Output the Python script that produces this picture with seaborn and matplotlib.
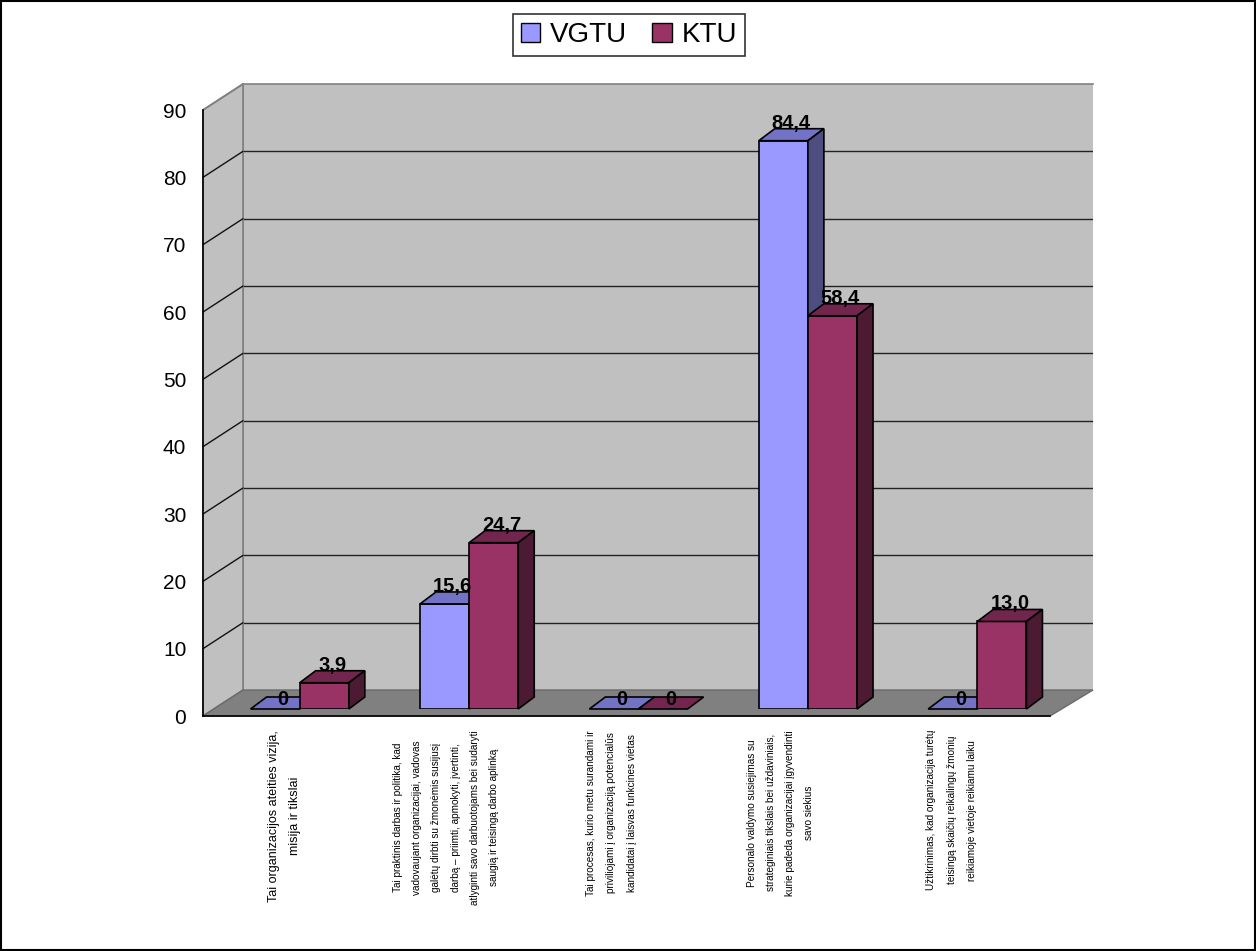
import numpy as np
import pandas as pd
import matplotlib
matplotlib.use("Agg")
import matplotlib.pyplot as plt
from matplotlib.patches import Polygon, Patch, Rectangle
from matplotlib.lines import Line2D
from matplotlib.transforms import IdentityTransform
import seaborn as sns

# ---------------- data ----------------
categories = [
    "Tai organizacijos ateities vizija,\nmisija ir tikslai",
    "Tai praktinis darbas ir politika, kad\nvadovaujant organizacijai, vadovas\ngalėtų dirbti su žmonėmis susijusį\ndarbą – priimti, apmokyti, įvertinti,\natlyginti savo darbuotojams bei sudaryti\nsaugią ir teisingą darbo aplinką",
    "Tai procesas, kurio metu surandami ir\npriviliojami į organizaciją potencialūs\nkandidatai į laisvas funkcines vietas",
    "Personalo valdymo susiejimas su\nstrateginiais tikslais bei uždaviniais,\nkurie padeda organizacijai įgyvendinti\nsavo siekius",
    "Užtikrinimas, kad organizacija turėtų\nteisingą skaičių reikalingų žmonių\nreikiamoje vietoje reikiamu laiku",
]
series_names = ["VGTU", "KTU"]
vgtu = [0, 15.6, 0, 84.4, 0]
ktu = [3.9, 24.7, 0, 58.4, 13.0]
y_ticks = [0, 10, 20, 30, 40, 50, 60, 70, 80, 90]

df = pd.DataFrame({
    "cat": categories * 2,
    "school": [series_names[0]] * 5 + [series_names[1]] * 5,
    "value": vgtu + ktu,
})

front_cols = ["#9999FF", "#993366"]
top_cols = ["#7373C6", "#73264D"]
side_cols = ["#4D4D80", "#4D1A33"]

# ---------------- figure ----------------
sns.set_style("white")
plt.rcParams["font.family"] = ["Liberation Sans", "DejaVu Sans"]
plt.rcParams["text.color"] = "black"
plt.rcParams["xtick.color"] = "black"
plt.rcParams["ytick.color"] = "black"
plt.rcParams["axes.labelcolor"] = "black"

W, H = 1256, 951
fig = plt.figure(figsize=(W / 100, H / 100), dpi=100)
fig.patch.set_facecolor("white")

def fx(x):
    return x / W

def fy(y):
    return 1 - y / H

YMAX = 90
# front plane
FX0, FX1, FY0, FY1 = 203, 1050, 716, 110
# back plane
BX0, BX1, BY0, BY1 = 243, 1093, 690, 84
# bar plane
PX0, PX1, PY0, PY1 = 215, 1062, 709, 103

# back wall
ax_back = fig.add_axes([fx(BX0), fy(BY0), (BX1 - BX0) / W, (BY0 - BY1) / H], zorder=0)
ax_back.set_facecolor("#C0C0C0")
ax_back.set_ylim(0, YMAX)
ax_back.set_xlim(0, 1)
ax_back.set_xticks([])
ax_back.set_yticks([])
for v in y_ticks[1:-1]:
    ax_back.axhline(v, color="#222222", lw=1.0)
for s in ax_back.spines.values():
    s.set_color("#808080")
    s.set_linewidth(1.2)
ax_back.spines["right"].set_visible(False)
ax_back.spines["bottom"].set_visible(False)

# left wall
def yf(v):
    return FY0 - v * (FY0 - FY1) / YMAX

def yb(v):
    return BY0 - v * (BY0 - BY1) / YMAX

wall = Polygon([(fx(FX0), fy(FY0)), (fx(FX0), fy(FY1)), (fx(BX0), fy(BY1)), (fx(BX0), fy(BY0))],
               closed=True, transform=fig.transFigure, facecolor="#C0C0C0",
               edgecolor="#808080", lw=1.2, zorder=0.5)
fig.patches.append(wall)
for v in y_ticks[1:-1]:
    fig.lines.append(Line2D([fx(FX0), fx(BX0)], [fy(yf(v)), fy(yb(v))],
                            transform=fig.transFigure, color="#111111", lw=1.0, zorder=0.6))
fig.lines.append(Line2D([fx(FX0), fx(BX0)], [fy(yf(YMAX)), fy(yb(YMAX))],
                        transform=fig.transFigure, color="#808080", lw=1.2, zorder=0.6))

# floor
floor = Polygon([(fx(FX0), fy(FY0)), (fx(FX1), fy(FY0)), (fx(BX1), fy(BY0)), (fx(BX0), fy(BY0))],
                closed=True, transform=fig.transFigure, facecolor="#808080",
                edgecolor="#6a6a6a", lw=1.0, zorder=0.7)
fig.patches.append(floor)

# bars
ax = fig.add_axes([fx(PX0), fy(PY0), (PX1 - PX0) / W, (PY0 - PY1) / H], zorder=2)
sns.barplot(data=df, x="cat", y="value", hue="school", order=categories,
            hue_order=series_names, palette=front_cols, width=0.58,
            edgecolor="black", linewidth=1.2, saturation=1, ax=ax, legend=False)
ax.set_xlim(-0.5, 4.5)
ax.set_ylim(0, YMAX)
ax.patch.set_visible(False)
ax.axis("off")

DX, DY = 16, 12  # bar depth in pixels
fig.canvas.draw()
for si, cont in enumerate(ax.containers):
    vals = vgtu if si == 0 else ktu
    for bi, rect in enumerate(cont.patches):
        z = 2 + si
        rect.set_zorder(z)
        x0, y0 = rect.get_x(), rect.get_y()
        x1, y1 = x0 + rect.get_width(), y0 + rect.get_height()
        (X0, Y0), (X1, Y1) = ax.transData.transform([(x0, y0), (x1, y1)])
        top = Polygon([(X0, Y1), (X1, Y1), (X1 + DX, Y1 + DY), (X0 + DX, Y1 + DY)],
                      closed=True, transform=IdentityTransform(), facecolor=top_cols[si],
                      edgecolor="black", lw=1.2, zorder=z + 0.5, clip_on=False)
        ax.add_artist(top)
        if Y1 - Y0 > 0.5:
            side = Polygon([(X1, Y0), (X1, Y1), (X1 + DX, Y1 + DY), (X1 + DX, Y0 + DY)],
                           closed=True, transform=IdentityTransform(), facecolor=side_cols[si],
                           edgecolor="black", lw=1.2, zorder=z + 0.5, clip_on=False)
            ax.add_artist(side)
        v = vals[bi]
        lab = "0" if v == 0 else f"{v:.1f}".replace(".", ",")
        oy = 4 if v == 0 else DY
        ax.annotate(lab, xy=((x0 + x1) / 2, y1), xytext=(DX / 2 * 0.72, oy * 0.72),
                    textcoords="offset points", ha="center", va="baseline",
                    fontsize=14.5, fontweight="bold", zorder=6, annotation_clip=False)

# front axis
ax_f = fig.add_axes([fx(FX0), fy(FY0), (FX1 - FX0) / W, (FY0 - FY1) / H], zorder=3)
ax_f.patch.set_visible(False)
ax_f.set_xlim(-0.5, 4.5)
ax_f.set_ylim(0, YMAX)
ax_f.set_yticks(y_ticks)
ax_f.set_yticklabels([str(t) for t in y_ticks], fontsize=15)
ax_f.set_xticks(np.arange(-0.5, 5, 1.0))
ax_f.set_xticklabels([])
ax_f.tick_params(axis="y", direction="out", length=10, width=1, color="#555555", pad=2)
ax_f.tick_params(axis="x", direction="out", length=10, width=1, color="#333333")
for k in ["top", "right"]:
    ax_f.spines[k].set_visible(False)
ax_f.spines["left"].set_color("black")
ax_f.spines["bottom"].set_color("black")
ax_f.spines["left"].set_linewidth(1.2)
ax_f.spines["bottom"].set_linewidth(1.2)

cat_fs = [9, 7.2, 7.2, 7.2, 7.2]
cat_ls = [1.95, 2.15, 2.3, 2.1, 2.3]
cat_shift = [-0.02, -0.065, -0.09, -0.09, -0.08]
for i, c in enumerate(categories):
    ax_f.text(i + cat_shift[i], -(730 - FY0) / (FY0 - FY1), c,
              transform=ax_f.get_xaxis_transform(),
              rotation=90, ha="center", va="top", multialignment="center",
              fontsize=cat_fs[i], linespacing=cat_ls[i])

# legend
handles = [Patch(facecolor=front_cols[i], edgecolor="black", lw=1) for i in range(2)]
leg = fig.legend(handles, series_names, loc="center", bbox_to_anchor=(fx(629), fy(35)),
                 ncol=2, fontsize=20, frameon=True, fancybox=False, edgecolor="black",
                 handlelength=0.7, handleheight=0.7, handletextpad=0.35, columnspacing=0.9,
                 borderpad=0.3, borderaxespad=0)
leg.get_frame().set_linewidth(1.2)

# figure border
fig.patches.append(Rectangle((0.0008, 0.001), 0.9984, 0.998, transform=fig.transFigure,
                             fill=False, edgecolor="black", lw=1.5, zorder=10))

fig.savefig("out.png", dpi=100)
